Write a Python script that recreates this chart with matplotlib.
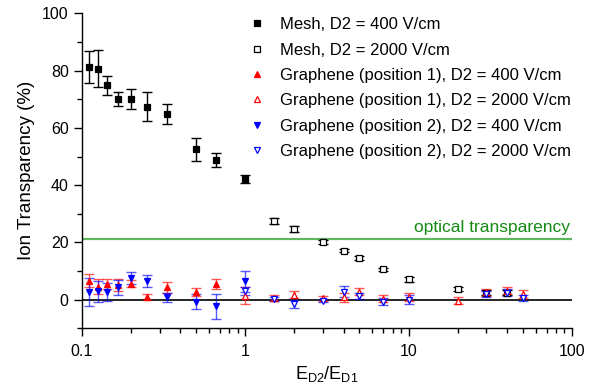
"""Ion transparency of mesh and graphene vs field ratio."""
import matplotlib
matplotlib.use('Agg')
import matplotlib.pyplot as plt
import matplotlib.transforms as mtransforms
from matplotlib.lines import Line2D
from matplotlib.ticker import LogLocator, MultipleLocator, FixedLocator, FixedFormatter

plt.rcParams['font.family'] = ['Liberation Sans', 'DejaVu Sans']

# Mesh, D2 = 400 V/cm
mesh400_x = [0.111, 0.125, 0.143, 0.167, 0.2, 0.25, 0.333, 0.5, 0.667, 1.0]
mesh400_y = [81.2, 80.7, 74.8, 70.2, 70.2, 67.4, 65.0, 52.5, 48.8, 42.3]
mesh400_e = [5.7, 6.5, 3.4, 2.5, 3.5, 5.0, 3.5, 4.0, 2.5, 1.4]

# Mesh, D2 = 2000 V/cm
mesh2000_x = [1.5, 2, 3, 4, 5, 7, 10, 20, 30, 40]
mesh2000_y = [27.4, 24.6, 20.2, 17.2, 14.6, 10.6, 7.1, 3.7, 2.5, 2.5]
mesh2000_e = [1.0, 1.0, 0.8, 0.6, 0.6, 0.6, 0.8, 0.8, 0.8, 0.9]

# Graphene (position 1), D2 = 400 V/cm
gr1_400_x = [0.111, 0.125, 0.143, 0.167, 0.2, 0.25, 0.333, 0.5, 0.667]
gr1_400_y = [6.6, 4.6, 5.5, 5.2, 5.6, 0.9, 4.3, 2.8, 5.5]
gr1_400_e = [2.3, 2.5, 1.6, 2.0, 1.2, 1.0, 2.0, 1.4, 1.7]

# Graphene (position 1), D2 = 2000 V/cm
gr1_2000_x = [1, 1.5, 2, 3, 4, 5, 7, 10, 20, 30, 40, 50]
gr1_2000_y = [1.4, 0.5, 1.8, 0.5, 0.9, 2.8, 0.3, 1.0, -0.3, 2.6, 3.2, 2.0]
gr1_2000_e = [3.0, 1.0, 1.3, 0.8, 1.6, 1.3, 1.2, 1.5, 1.2, 1.2, 1.2, 1.5]

# Graphene (position 2), D2 = 400 V/cm
gr2_400_x = [0.111, 0.125, 0.143, 0.167, 0.2, 0.25, 0.333, 0.5, 0.667, 1.0]
gr2_400_y = [2.7, 3.0, 2.7, 4.3, 7.6, 6.6, 0.8, -0.6, -2.3, 6.4]
gr2_400_e = [4.8, 3.6, 3.2, 2.7, 2.2, 2.2, 1.4, 2.5, 4.4, 3.8]

# Graphene (position 2), D2 = 2000 V/cm
gr2_2000_x = [1, 1.5, 2, 3, 4, 5, 7, 10, 30, 40, 50]
gr2_2000_y = [3.0, 0.3, -1.5, -0.3, 2.8, 1.2, -0.6, 0.0, 2.0, 2.4, 0.6]
gr2_2000_e = [1.5, 0.8, 1.5, 0.6, 2.0, 1.0, 1.2, 1.5, 1.2, 1.2, 1.0]

optical = 21.2

fig = plt.figure(figsize=(6.02, 3.91), dpi=100)
ax = fig.add_axes([0.136, 0.160, 0.814, 0.806])

red = '#ff0000'
blue = '#0000ff'

series = [
    (mesh400_x, mesh400_y, mesh400_e, 's', 'black', 'black', 'Mesh, D2 = 400 V/cm'),
    (mesh2000_x, mesh2000_y, mesh2000_e, 's', 'black', 'white', 'Mesh, D2 = 2000 V/cm'),
    (gr1_400_x, gr1_400_y, gr1_400_e, '^', red, red,
     'Graphene (position 1), D2 = 400 V/cm'),
    (gr1_2000_x, gr1_2000_y, gr1_2000_e, '^', red, 'white',
     'Graphene (position 1), D2 = 2000 V/cm'),
    (gr2_400_x, gr2_400_y, gr2_400_e, 'v', blue, blue,
     'Graphene (position 2), D2 = 400 V/cm'),
    (gr2_2000_x, gr2_2000_y, gr2_2000_e, 'v', blue, 'white',
     'Graphene (position 2), D2 = 2000 V/cm'),
]

ax.axhline(0, color='black', lw=1.2, zorder=1)
ax.axhline(optical, color='#5cb85c', lw=1.6, zorder=1)
trans = mtransforms.blended_transform_factory(ax.transAxes, ax.transData)
ax.text(0.996, optical + 1.3, 'optical transparency', transform=trans,
        ha='right', va='bottom', color='#138a13', fontsize=12.5)

handles = []
for x, y, e, m, c, fc, lab in series:
    ms = 4.0 if m == 's' else 5.0
    ax.errorbar(x, y, yerr=e, fmt='none', ecolor=c, elinewidth=1.0,
                capsize=3.5, capthick=1.0, alpha=0.65 if c != 'black' else 1.0,
                zorder=2)
    ax.plot(x, y, ls='none', marker=m, ms=ms, mec=c, mfc=fc, mew=0.9, zorder=3)
    handles.append(Line2D([], [], ls='none', marker=m, ms=ms, mec=c, mfc=fc,
                          mew=0.9, label=lab))

ax.legend(handles=handles, loc='upper left', bbox_to_anchor=(0.306, 1.035),
          frameon=False, fontsize=12, handletextpad=0.8, labelspacing=0.62,
          handlelength=1.2)

ax.set_xscale('log')
ax.set_xlim(0.1, 100)
ax.set_ylim(-10, 100)
ax.xaxis.set_major_locator(FixedLocator([0.1, 1, 10, 100]))
ax.xaxis.set_major_formatter(FixedFormatter(['0.1', '1', '10', '100']))
ax.xaxis.set_minor_locator(LogLocator(base=10, subs=range(2, 10)))
ax.yaxis.set_major_locator(FixedLocator([0, 20, 40, 60, 80, 100]))
ax.yaxis.set_minor_locator(MultipleLocator(10))

for s in ['top', 'right']:
    ax.spines[s].set_visible(False)
for s in ['left', 'bottom']:
    ax.spines[s].set_linewidth(1.0)
ax.tick_params(which='major', direction='out', length=6, width=1.0,
               labelsize=11.5)
ax.tick_params(which='minor', direction='out', length=3.5, width=1.0)
ax.tick_params(axis='x', pad=5)

ax.set_ylabel('Ion Transparency (%)', fontsize=13.5, labelpad=5)
ax.set_xlabel(r'E$_{\mathregular{D2}}$/E$_{\mathregular{D1}}$', fontsize=13,
              labelpad=4)

fig.savefig('out.png', dpi=100)
